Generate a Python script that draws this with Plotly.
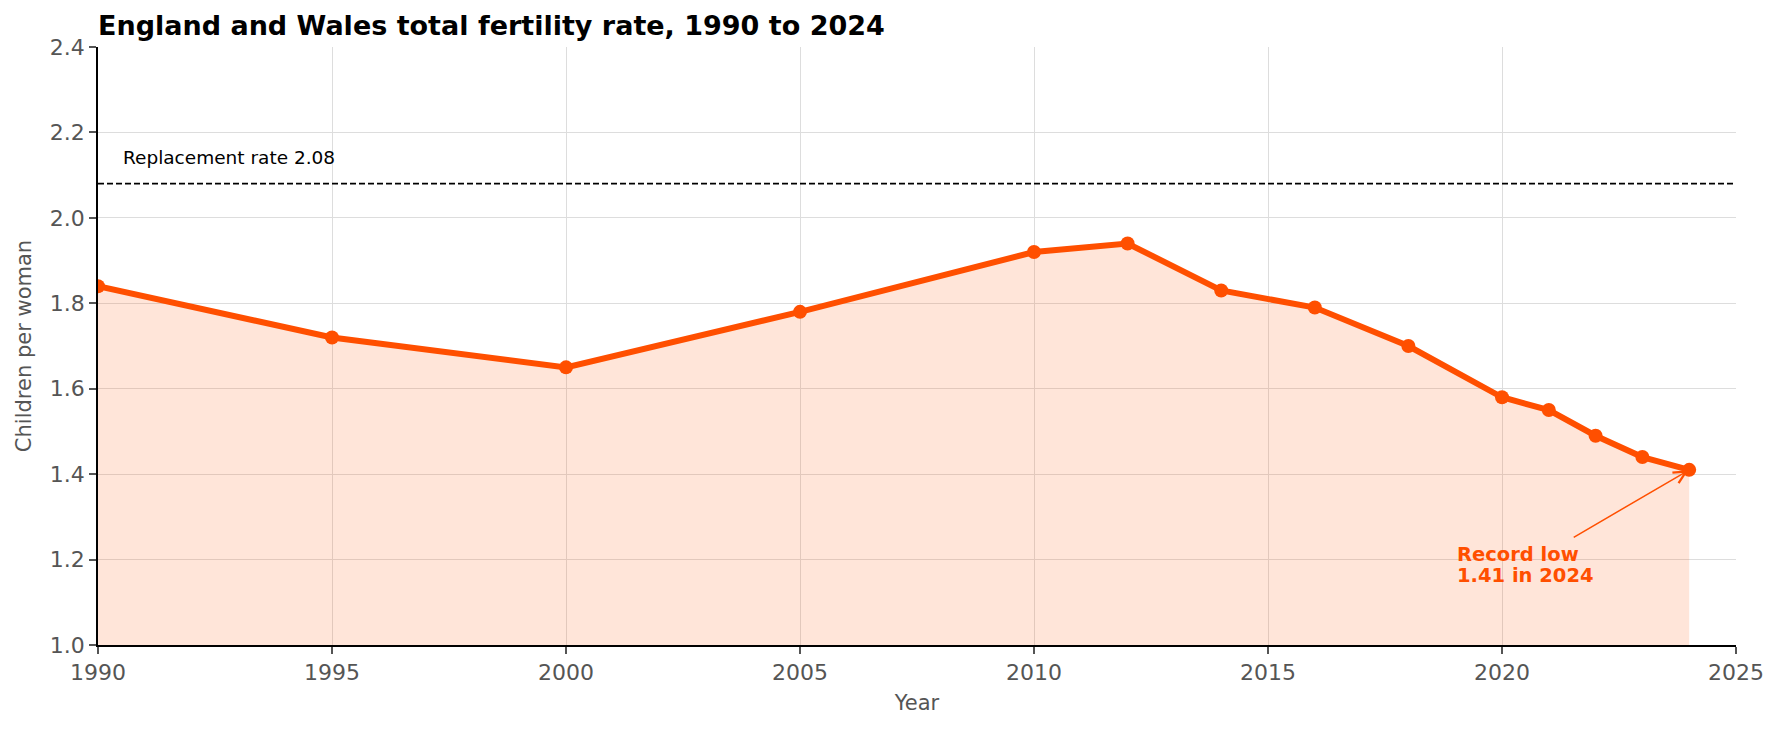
import plotly.graph_objects as go

years = [1990, 1995, 2000, 2005, 2010, 2012, 2014, 2016, 2018, 2020, 2021, 2022, 2023, 2024]
tfr = [1.84, 1.72, 1.65, 1.78, 1.92, 1.94, 1.83, 1.79, 1.70, 1.58, 1.55, 1.49, 1.44, 1.41]
replacement_rate = 2.08
x_ticks = [1990, 1995, 2000, 2005, 2010, 2015, 2020, 2025]
y_ticks = [1.0, 1.2, 1.4, 1.6, 1.8, 2.0, 2.2, 2.4]

ORANGE = "#FF4F00"
FONT = "DejaVu Sans"
GRAY = "#555555"

fig = go.Figure()
fig.add_trace(go.Scatter(
    x=years, y=tfr, mode="lines+markers",
    line=dict(color=ORANGE, width=6),
    marker=dict(color=ORANGE, size=14),
    fill="tozeroy", fillcolor="rgba(255,79,0,0.15)",
    showlegend=False, hoverinfo="x+y",
))

fig.add_shape(type="line", xref="paper", x0=0, x1=1, yref="y", y0=replacement_rate, y1=replacement_rate,
              line=dict(color="black", width=1.8, dash="6px,3px"))

fig.add_annotation(x=1990.5, y=2.142, xref="x", yref="y", text=f"Replacement rate {replacement_rate:.2f}",
                   showarrow=False, xanchor="left", yanchor="middle",
                   font=dict(family=FONT, size=18.5, color="black"))

fig.add_annotation(x=2024, y=1.41, ax=2021.5, ay=1.25, xref="x", yref="y", axref="x", ayref="y",
                   text="", showarrow=True, arrowhead=5, arrowsize=1.6, arrowwidth=1.5,
                   arrowcolor=ORANGE, standoff=1)
fig.add_annotation(x=2019.0, y=1.2125, xref="x", yref="y", text="<b>Record low</b>",
                   showarrow=False, xanchor="left", yanchor="middle",
                   font=dict(family=FONT, size=19.5, color=ORANGE))
fig.add_annotation(x=2019.0, y=1.162, xref="x", yref="y", text="<b>1.41 in 2024</b>",
                   showarrow=False, xanchor="left", yanchor="middle",
                   font=dict(family=FONT, size=19.5, color=ORANGE))

fig.update_layout(
    width=1781, height=730,
    margin=dict(l=98, r=45, t=47, b=85),
    plot_bgcolor="white", paper_bgcolor="white",
    font=dict(family=FONT, size=22, color=GRAY),
    title=dict(text="<b>England and Wales total fertility rate, 1990 to 2024</b>",
               x=98/1781, xanchor="left", xref="container",
               y=1 - 26/730, yanchor="middle", yref="container",
               font=dict(family=FONT, size=27, color="black")),
)
fig.update_xaxes(
    range=[1990, 2025], tickvals=x_ticks, ticktext=[str(t) for t in x_ticks],
    showgrid=True, gridcolor="#dddddd", gridwidth=1, zeroline=False,
    showline=True, linecolor="black", linewidth=1.8,
    ticks="outside", ticklen=7, tickwidth=1.6, tickcolor=GRAY,
    tickfont=dict(family=FONT, size=22, color=GRAY),
    title=dict(text="Year", font=dict(family=FONT, size=21, color=GRAY), standoff=11),
)
fig.update_yaxes(
    range=[1.0, 2.4], tickvals=y_ticks, ticktext=[f"{t:.1f}" for t in y_ticks],
    showgrid=True, gridcolor="#dddddd", gridwidth=1, zeroline=False,
    showline=True, linecolor="black", linewidth=1.8,
    ticks="outside", ticklen=7, tickwidth=1.6, tickcolor=GRAY,
    tickfont=dict(family=FONT, size=22, color=GRAY),
    title=dict(text="Children per woman", font=dict(family=FONT, size=21, color=GRAY), standoff=12),
)

fig.write_html("out.html")
